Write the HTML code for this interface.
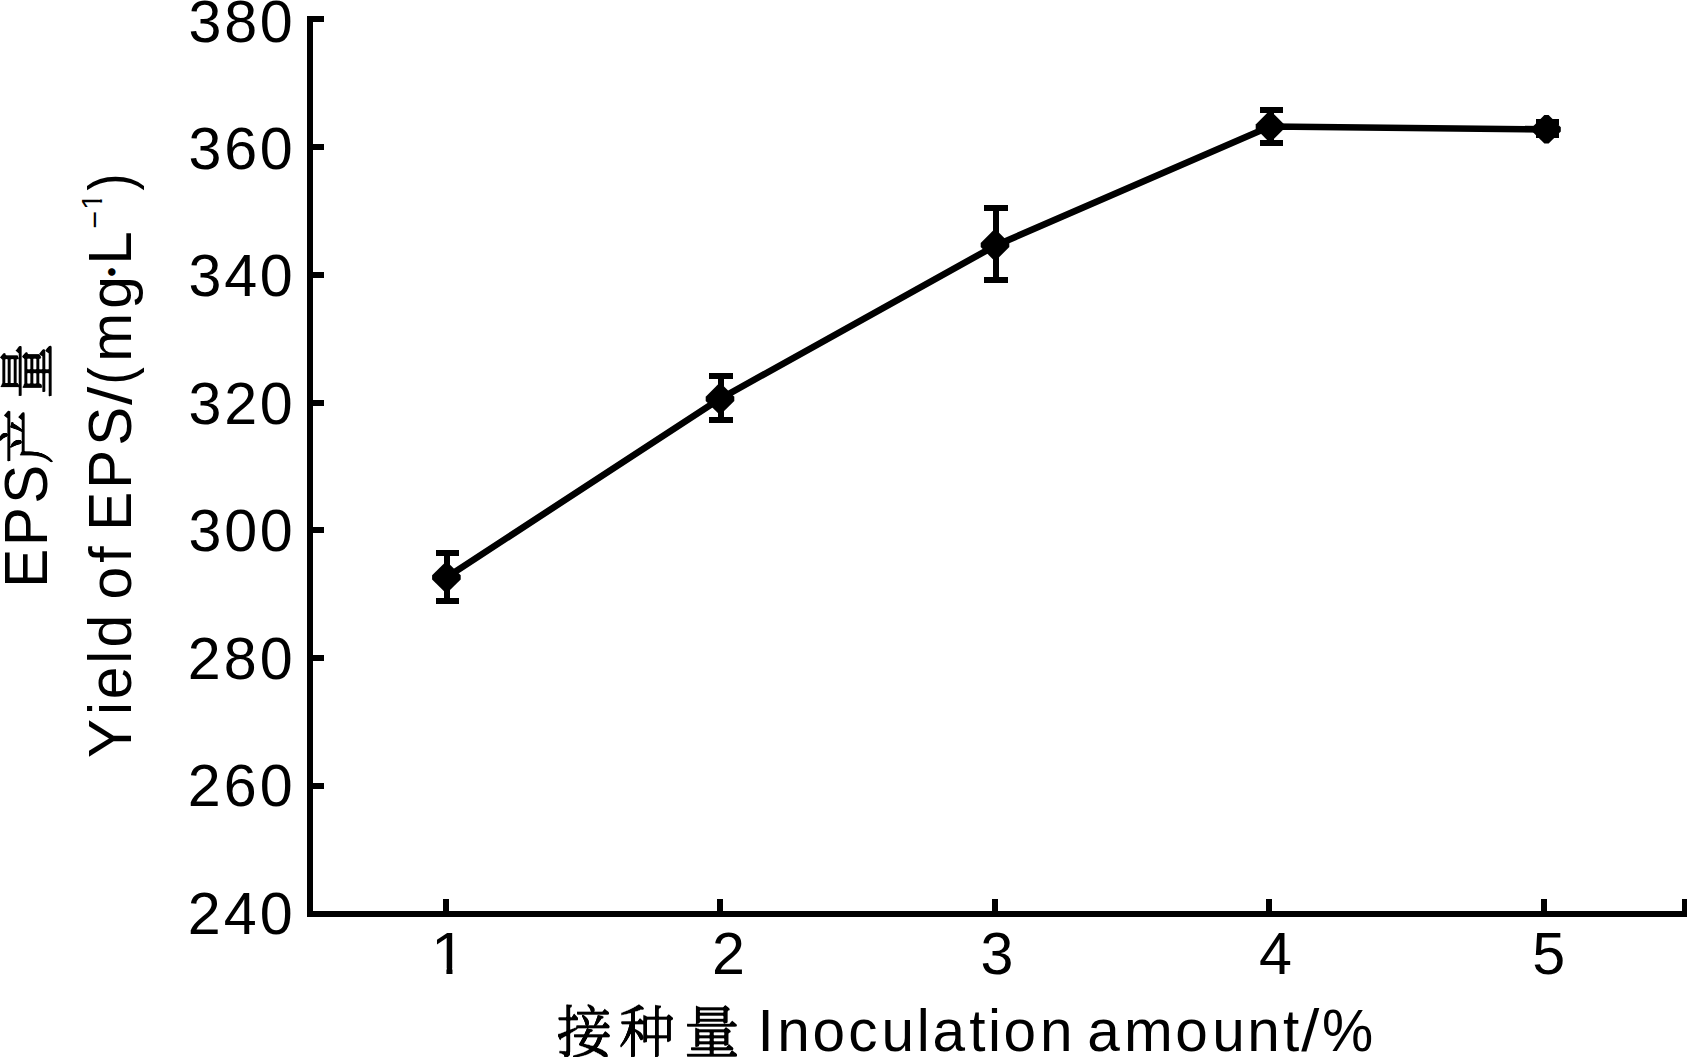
<!DOCTYPE html>
<html lang="zh"><head><meta charset="utf-8"><title>EPS产量 Yield of EPS/(mg·L⁻¹) — 接种量 Inoculation amount/%</title>
<style>
html,body{margin:0;padding:0;background:#fff;}
body{width:1687px;height:1057px;overflow:hidden;}
svg{display:block;}
text{fill:#000;white-space:pre;}
.l{font-family:"Liberation Sans",sans-serif;}
.c{font-family:"Liberation Sans","Noto Serif CJK SC",serif;stroke:#000;stroke-width:0.35px;}
.d{font-family:"Noto Sans CJK SC","Liberation Sans",sans-serif;}
</style></head><body>
<svg width="1687" height="1057" viewBox="0 0 1687 1057">
<defs>
<filter id="fv" x="-10%" y="-10%" width="120%" height="120%"><feMorphology operator="dilate" radius="0 1" result="d"/><feComposite in="SourceGraphic" in2="d" operator="arithmetic" k1="0" k2="0.5" k3="0.5" k4="0"/><feComponentTransfer><feFuncA type="linear" slope="1.6" intercept="-0.3"/></feComponentTransfer></filter>
<filter id="fx" filterUnits="userSpaceOnUse" x="-10" y="330" width="80" height="150"><feMorphology operator="dilate" radius="1 0" result="d"/><feComposite in="SourceGraphic" in2="d" operator="arithmetic" k1="0" k2="0.5" k3="0.5" k4="0"/><feComponentTransfer><feFuncA type="linear" slope="1.6" intercept="-0.3"/></feComponentTransfer></filter>
<clipPath id="k1"><rect x="409.42" y="900" width="60" height="68.32"/><rect x="429.26" y="960" width="5.80" height="20"/></clipPath>
<clipPath id="k2"><rect x="-212.74" y="-40" width="40" height="36.80"/><rect x="-202.52" y="-10" width="3.01" height="14"/></clipPath>
</defs>
<rect x="0" y="0" width="1687" height="1057" fill="#fff"/>
<g shape-rendering="crispEdges" fill="#000">
<rect x="307" y="16" width="6" height="901"/>
<rect x="307" y="911" width="1380" height="6"/>
<rect x="307" y="16.00" width="17" height="6"/>
<rect x="307" y="143.86" width="17" height="6"/>
<rect x="307" y="271.71" width="17" height="6"/>
<rect x="307" y="399.57" width="17" height="6"/>
<rect x="307" y="527.43" width="17" height="6"/>
<rect x="307" y="655.29" width="17" height="6"/>
<rect x="307" y="783.14" width="17" height="6"/>
<rect x="443.00" y="899" width="6" height="15"/>
<rect x="717.00" y="899" width="6" height="15"/>
<rect x="991.60" y="899" width="6" height="15"/>
<rect x="1266.00" y="899" width="6" height="15"/>
<rect x="1541.00" y="899" width="6" height="15"/>
<rect x="1682" y="899" width="6" height="15"/>
<rect x="444" y="550" width="6" height="54"/>
<rect x="436" y="550" width="23" height="6"/>
<rect x="436" y="598" width="23" height="6"/>
<rect x="718" y="373" width="6" height="50"/>
<rect x="709" y="373" width="24" height="6"/>
<rect x="709" y="417" width="24" height="6"/>
<rect x="993" y="205" width="6" height="78"/>
<rect x="984" y="205" width="24" height="6"/>
<rect x="984" y="277" width="24" height="6"/>
<rect x="1268" y="107" width="6" height="39"/>
<rect x="1260" y="107" width="23" height="6"/>
<rect x="1260" y="140" width="23" height="6"/>
<rect x="1544" y="119" width="6" height="19"/>
<rect x="1536" y="119" width="23" height="6"/>
<rect x="1536" y="132" width="23" height="6"/>
</g>
<g fill="#000">
<polyline points="446.4,577.4 720.0,398.8 995.0,245.8 1270.0,126.5 1546.5,129.4" fill="none" stroke="#000" stroke-width="6.6" stroke-linejoin="round"/>
<polygon points="432.1,575.3 444.3,563.2 448.5,563.2 460.7,575.3 460.7,579.5 448.5,591.6 444.3,591.6 432.1,579.5"/>
<polygon points="705.7,396.7 717.9,384.6 722.1,384.6 734.3,396.7 734.3,400.9 722.1,413.0 717.9,413.0 705.7,400.9"/>
<polygon points="980.7,242.9 992.9,230.8 997.1,230.8 1009.3,242.9 1009.3,247.1 997.1,259.2 992.9,259.2 980.7,247.1"/>
<polygon points="1255.7,124.4 1267.9,112.3 1272.1,112.3 1284.3,124.4 1284.3,128.6 1272.1,140.7 1267.9,140.7 1255.7,128.6"/>
<polygon points="1532.2,127.2 1544.4,115.1 1548.6,115.1 1560.8,127.2 1560.8,131.4 1548.6,143.5 1544.4,143.5 1532.2,131.4"/>
</g>
<g>
<text class="l" font-size="59.2" x="188.55 224.17 259.79" y="41.60">380</text>
<text class="l" font-size="59.2" x="188.55 224.17 259.79" y="169.30">360</text>
<text class="l" font-size="59.2" x="188.55 224.17 259.79" y="296.00">340</text>
<text class="l" font-size="59.2" x="188.55 224.17 259.79" y="424.00">320</text>
<text class="l" font-size="59.2" x="188.55 224.17 259.79" y="551.30">300</text>
<text class="l" font-size="59.2" x="187.82 223.81 259.79" y="678.80">280</text>
<text class="l" font-size="59.2" x="187.82 223.81 259.79" y="805.90">260</text>
<text class="l" font-size="59.2" x="187.82 223.81 259.79" y="934.00">240</text>
<text class="l" font-size="60" x="414.42" y="974.00" transform="scale(1.0400,1)" clip-path="url(#k1)">1</text>
<text class="l" font-size="59.2" x="712.09" y="974.00">2</text>
<text class="l" font-size="59.2" x="980.61" y="974.00">3</text>
<text class="l" font-size="59.2" x="1258.88" y="973.80">4</text>
<text class="l" font-size="59.2" x="1532.25" y="974.00">5</text>
<text class="c" font-size="56" x="559.18 622.02 687.47" y="1051.90" transform="scale(0.9950,1)" filter="url(#fv)">接种量</text>
<text class="l" font-size="58.5" x="757.40 777.22 812.54 848.31 881.40 916.76 932.41 969.21 987.99 1003.44 1040.12" y="1050.70">Inoculation</text>
<text class="l" font-size="58.5" x="1087.31 1124.12 1175.34 1212.30 1247.22 1283.01" y="1050.70">amount</text>
<text class="l" font-size="58.5" x="1169.05" y="1050.70" transform="scale(1.1130,1)">/</text>
<text class="l" font-size="58.5" x="1342.98" y="1050.70" transform="scale(0.9843,1)">%</text>
<text class="l" font-size="58.7" x="-758.09 -715.03 -699.29 -663.86 -647.46" y="0" transform="translate(131.10,0) scale(1.0300,1) rotate(-90)">Yield</text>
<text class="l" font-size="58.7" x="-599.46 -562.83" y="0" transform="translate(131.10,0) scale(1.0000,1) rotate(-90)">of</text>
<text class="l" font-size="58.3" x="-530.78 -488.78 -445.65" y="0" transform="translate(131.10,0) scale(1.0600,1) rotate(-90)">EPS</text>
<text class="l" font-size="58.7" x="-363.04" y="0" transform="translate(131.10,0) scale(1.0300,1) rotate(-90) scale(1.1153,1)">/</text>
<text class="l" font-size="58.7" x="-433.33" y="0" transform="translate(131.10,0) scale(1.0300,1) rotate(-90) scale(0.8871,1)">(</text>
<text class="l" font-size="58.7" x="-361.70 -308.76" y="0" transform="translate(131.10,0) scale(1.0000,1) rotate(-90)">mg</text>
<text class="d" font-size="35.38" x="-289.79" y="0" transform="translate(125.04,0) rotate(-90)">·</text>
<text class="l" font-size="60" x="-264.82" y="0" transform="translate(131.10,0) scale(1.0300,1) rotate(-90)">L</text>
<text class="l" font-size="30.5" x="-228.50" y="0" transform="translate(105.14,0) rotate(-90)">−</text>
<text class="l" font-size="29.5" x="-209.74" y="0" transform="translate(102.00,0) rotate(-90)" clip-path="url(#k2)">1</text>
<text class="l" font-size="58.7" x="-219.39" y="0" transform="translate(131.10,0) scale(1.0300,1) rotate(-90) scale(0.8679,1)">)</text>
<text class="l" font-size="58.3" x="-587.78 -545.98 -503.85" y="0" transform="translate(47.20,0) scale(1.0600,1) rotate(-90)">EPS</text>
<g filter="url(#fx)">
<text class="c" font-size="56" x="-464.35 -399.01" y="0" transform="translate(47.20,0) scale(1.0000,1) rotate(-90)">产量</text>
</g>
</g>
</svg>
</body></html>
